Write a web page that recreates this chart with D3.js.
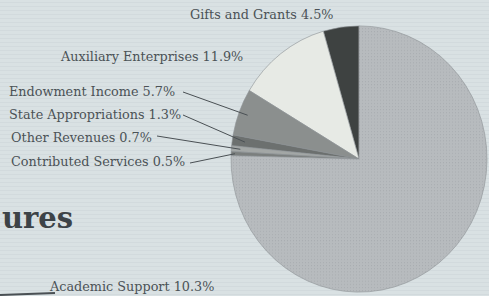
<html>
<head>
<script src="https://d3js.org/d3.v7.min.js"></script>
<style>
    html, body { margin: 0; padding: 0; background: #d9e1e3; }
    .label { font-family: "DejaVu Serif", serif; font-size: 12.8px; fill: #4b5256; }
</style>
</head>
<body>
<svg id="pie" width="489" height="296"></svg>
<script>

// Revenue slices, counterclockwise from 12 o'clock
const categories = ["Gifts and Grants", "Auxiliary Enterprises", "Endowment Income",
                    "State Appropriations", "Other Revenues", "Contributed Services", "Tuition and Fees"];
const percents = [4.5, 11.9, 5.7, 1.3, 0.7, 0.5, 75.4];
const sliceColors = ["#3e4241", "#e7eae5", "#8b8f8e", "#6c706f", "#a3a7a6", "#7b7f7e", "url(#dots)"];
const showLabel = [true, true, true, true, true, true, false];

const svg = d3.select("svg#pie");
const width = +svg.attr("width");
const height = +svg.attr("height");

// halftone look of the scan
const defs = svg.append("defs");
const dots = defs.append("pattern")
    .attr("id", "dots")
    .attr("width", 3).attr("height", 3)
    .attr("patternUnits", "userSpaceOnUse");
dots.append("rect").attr("width", 3).attr("height", 3).attr("fill", "#b7bbbe");
dots.append("rect").attr("width", 1).attr("height", 1).attr("fill", "#a9adb1");

const bg = defs.append("pattern")
    .attr("id", "paper")
    .attr("width", 6).attr("height", 4)
    .attr("patternUnits", "userSpaceOnUse");
bg.append("rect").attr("width", 6).attr("height", 4).attr("fill", "#d9e1e3");
bg.append("rect").attr("y", 2).attr("width", 6).attr("height", 1).attr("fill", "#d2dadd");

svg.append("rect").attr("width", width).attr("height", height).attr("fill", "url(#paper)");

// the scanned pie is a little taller than wide
const cx = 359, cy = 159, radius = 128, sy = 1.04;

const data = categories.map((c, i) => ({name: c, value: percents[i], color: sliceColors[i], label: showLabel[i]}));

const pie = d3.pie()
    .sort(null)
    .value(d => d.value)
    .startAngle(0)
    .endAngle(-2 * Math.PI);

const arc = d3.arc().innerRadius(0).outerRadius(radius);

const chart = svg.append("g").attr("transform", `translate(${cx},${cy}) scale(1,${sy})`);

chart.selectAll("path.slice").data(pie(data))
    .join("path")
    .attr("class", "slice")
    .attr("d", arc)
    .attr("fill", d => d.data.color)
    .attr("stroke", "#8e9396")
    .attr("stroke-width", 0.6);

// label positions (text anchor point) and where the leader starts
const labelX = [190, 61, 9, 9, 11, 11];
const labelY = [19, 61, 96, 119, 142, 166];
const leaderStart = [null, null, [183, 92], [183, 115], [157, 136], [190, 163]];
const leaderRadius = [0, 0, 0.93, 0.9, 0.93, 0.97];

const arcs = pie(data);

svg.selectAll("text.label").data(arcs.filter(d => d.data.label))
    .join("text")
    .attr("class", "label")
    .attr("x", (d, i) => labelX[i])
    .attr("y", (d, i) => labelY[i])
    .text(d => `${d.data.name} ${d.data.value}%`);

// leader lines from the small-slice labels into the slices
const leaders = arcs.slice(0, 6).map((d, i) => ({d, i})).filter(o => leaderStart[o.i]);
svg.selectAll("line.leader").data(leaders)
    .join("line")
    .attr("class", "leader")
    .attr("x1", o => leaderStart[o.i][0])
    .attr("y1", o => leaderStart[o.i][1])
    .attr("x2", o => {
        const a = (o.d.startAngle + o.d.endAngle) / 2;
        return cx + Math.sin(a) * radius * leaderRadius[o.i];
    })
    .attr("y2", o => {
        const a = (o.d.startAngle + o.d.endAngle) / 2;
        return cy - Math.cos(a) * radius * sy * leaderRadius[o.i];
    })
    .attr("stroke", "#4a5054")
    .attr("stroke-width", 1);

// tail of the section heading at the left edge, and the next chart's first label
svg.append("text")
    .attr("x", 2)
    .attr("y", 228)
    .style("font-family", "DejaVu Serif, serif")
    .style("font-weight", "bold")
    .style("font-size", "29px")
    .style("fill", "#3d4347")
    .text("ures");

svg.append("text")
    .attr("class", "label")
    .attr("x", 50)
    .attr("y", 291)
    .text("Academic Support 10.3%");

svg.append("line")
    .attr("x1", 0).attr("y1", 295)
    .attr("x2", 55).attr("y2", 293)
    .attr("stroke", "#4a5054")
    .attr("stroke-width", 2);

</script>
</body>
</html>
